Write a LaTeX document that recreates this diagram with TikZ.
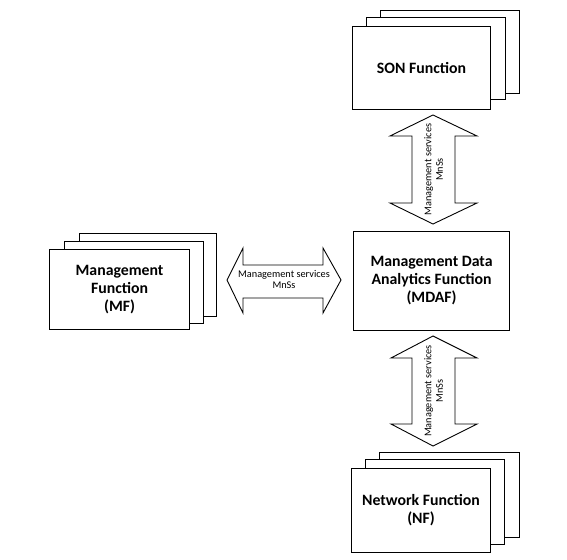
\documentclass[tikz,border=0pt]{standalone}
\usepackage{fontspec}
\setmainfont{Carlito}
\begin{document}
\begin{tikzpicture}[x=1pt,y=-1pt,
  card/.style={draw=black, fill=white, line width=1.1pt, inner sep=0pt, anchor=north west},
  title/.style={font=\fontsize{15.8}{18}\selectfont\bfseries, align=center},
  blockarrow/.style={draw=black, fill=white, line width=0.9pt, line join=miter},
  mns/.style={font=\fontsize{10.3}{11.5}\selectfont, align=center, inner sep=0pt}]
\useasboundingbox (0,0) rectangle (567,559);
% SON stack
\node[card, minimum width=139pt, minimum height=83pt] (son3) at (380,10) {};
\node[card, minimum width=139pt, minimum height=82pt] (son2) at (366,17) {};
\node[card, minimum width=138pt, minimum height=83pt] (son) at (352,26) {};
\node[title] (sont) at (son.center) {SON Function};
% MDAF
\node[card, minimum width=156pt, minimum height=99pt] (mdaf) at (353,231) {};
\node[title] (mdaft) at (mdaf.center) {Management Data\\Analytics Function\\(MDAF)};
% MF stack
\node[card, minimum width=137pt, minimum height=83pt] (mf3) at (79,233) {};
\node[card, minimum width=139pt, minimum height=82pt] (mf2) at (64,241) {};
\node[card, minimum width=140pt, minimum height=80pt] (mf) at (49,249) {};
\node[title] (mft) at (mf.center) {Management\\Function\\(MF)};
% NF stack
\node[card, minimum width=140pt, minimum height=85pt] (nf3) at (379,452) {};
\node[card, minimum width=139pt, minimum height=85pt] (nf2) at (365,459) {};
\node[card, minimum width=139pt, minimum height=84pt] (nf) at (351,468) {};
\node[title] (nft) at (nf.center) {Network Function\\(NF)};
% upper vertical arrow
\draw[blockarrow] (433,115) -- (477,136) -- (455,136) -- (455,203) -- (477,203) -- (433,224)
  -- (390,203) -- (412,203) -- (412,136) -- (390,136) -- cycle;
\node[mns, rotate=90] (a1) at (433.5,169.5) {Management services\\MnSs};
% lower vertical arrow
\draw[blockarrow] (433,336) -- (477,358) -- (455,358) -- (455,424) -- (477,424) -- (433,446)
  -- (391,424) -- (412,424) -- (412,358) -- (391,358) -- cycle;
\node[mns, rotate=90] (a2) at (433.5,391) {Management services\\MnSs};
% horizontal arrow
\draw[blockarrow] (227,280) -- (243,248) -- (243,265) -- (323,265) -- (323,248) -- (341,280)
  -- (323,313) -- (323,298) -- (243,298) -- (243,313) -- cycle;
\node[mns] (a3) at (284,279.5) {Management services\\MnSs};
\end{tikzpicture}
\end{document}
